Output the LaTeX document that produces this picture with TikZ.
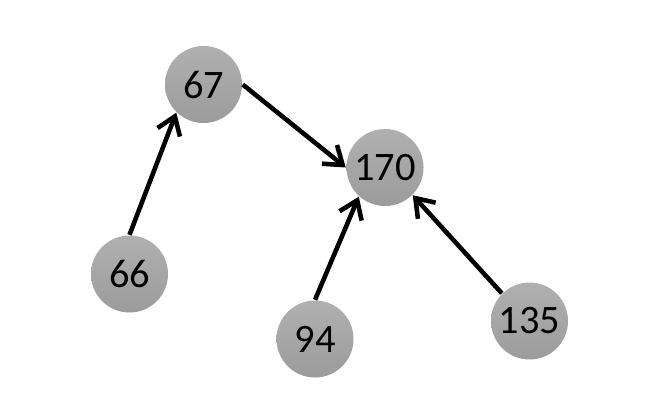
\documentclass[tikz,border=0pt]{standalone}
\usepackage{fontspec}
\setmainfont{Carlito}
\usetikzlibrary{arrows.meta}
\tikzset{>={Straight Barb[length=1.7mm,width=2.4mm,line width=1.3pt]}}
\tikzset{
    vtx/.style={circle, minimum size=7.7mm, inner sep=0pt,
        top color=gray!62, bottom color=gray!78,
        font=\fontsize{11.5}{13}\selectfont},
    edg/.style={line width=1.3pt, ->},
}

\begin{document}
\begin{tikzpicture}
    \useasboundingbox(0, 0)rectangle(6.59, 4.18);
    \node[vtx](n67)at(2.035, 3.335){67};
    \node[vtx](n170)at(3.85, 2.505){170};
    \node[vtx](n66)at(1.295, 1.44){66};
    \node[vtx](n94)at(3.15, 0.79){94};
    \node[vtx](n135)at(5.295, 0.97){135};
    \draw[edg](n66.north)--(n67.226);
    \draw[edg](n67.east)--(n170.west);
    \draw[edg](n94.north)--(n170.228);
    \draw[edg](n135.north west)--(n170.south east);
\end{tikzpicture}
\end{document}
